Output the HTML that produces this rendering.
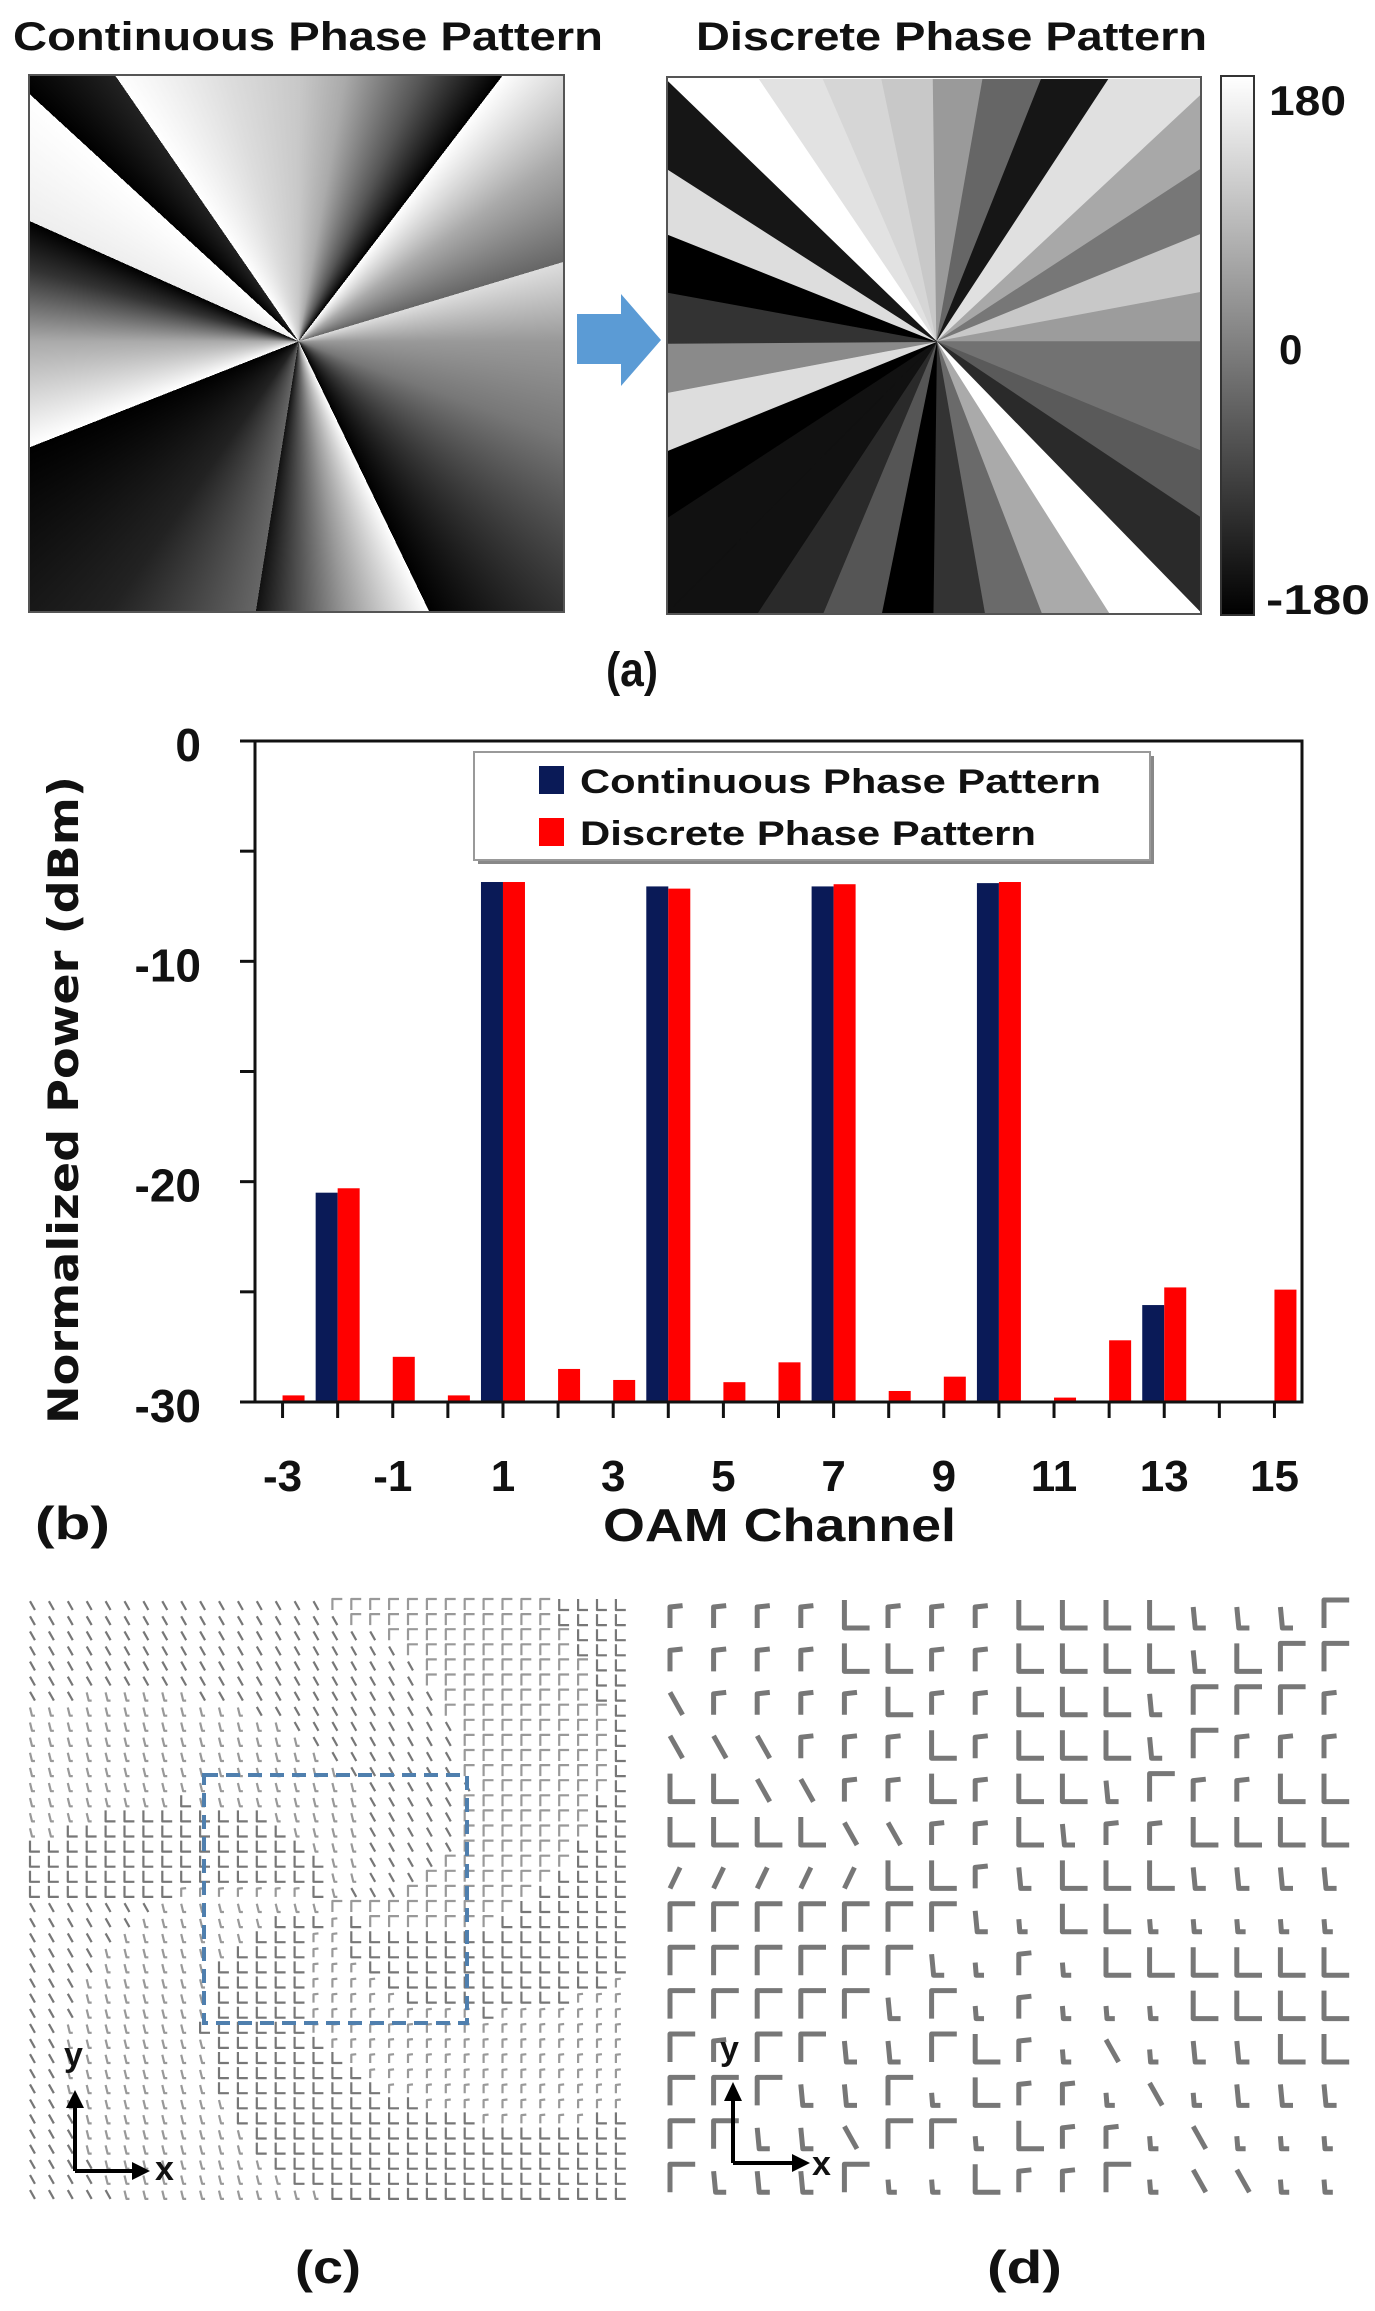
<!DOCTYPE html>
<html><head><meta charset="utf-8"><style>
html,body{margin:0;padding:0;background:#fff;}
svg{display:block;}
text{font-family:"Liberation Sans Narrow","Liberation Sans",sans-serif;font-weight:bold;fill:#111;}
</style></head><body>
<svg id="root" width="1375" height="2311" viewBox="0 0 1375 2311" xmlns="http://www.w3.org/2000/svg">
<defs>
<linearGradient id="cbar" x1="0" y1="0" x2="0" y2="1"><stop offset="0" stop-color="#fff"/><stop offset="1" stop-color="#000"/></linearGradient>
</defs>
<!-- (a) -->
<text x="13" y="50" font-size="40" textLength="590" lengthAdjust="spacingAndGlyphs">Continuous Phase Pattern</text>
<text x="696" y="50" font-size="40" textLength="511" lengthAdjust="spacingAndGlyphs">Discrete Phase Pattern</text>
<foreignObject x="28" y="74" width="537" height="539">
<div xmlns="http://www.w3.org/1999/xhtml" style="width:537px;height:539px;box-sizing:border-box;border:2px solid #555;background:conic-gradient(from 0deg at 50.4% 49.6%, #c8c8c8 0deg, #aaa 10deg, #555 25deg, #000 37.5deg, #fff 37.5deg, #aaa 55deg, #666 73.3deg, #ddd 73.3deg, #999 90deg, #777 110deg, #333 135deg, #000 154.2deg, #fff 154.2deg, #999 170deg, #111 189deg, #666 189deg, #222 215deg, #000 248.5deg, #fff 248.5deg, #aaa 270deg, #333 285deg, #000 294.1deg, #eee 294.1deg, #fff 312.6deg, #000 312.6deg, #222 325.4deg, #fff 325.4deg, #ddd 345deg, #c8c8c8 360deg);"></div>
</foreignObject>
<svg x="667" y="79" width="534" height="534" viewBox="30 25 1505 1515" preserveAspectRatio="none" id="discrete"></svg>
<rect x="667" y="77" width="534" height="537" fill="none" stroke="#555" stroke-width="2"/>
<rect x="1221" y="76" width="33" height="539" fill="url(#cbar)" stroke="#333" stroke-width="2"/>
<text x="1269" y="115" font-size="42" textLength="77" lengthAdjust="spacingAndGlyphs">180</text>
<text x="1279" y="364" font-size="42">0</text>
<text x="1266" y="614" font-size="42" textLength="104" lengthAdjust="spacingAndGlyphs">-180</text>
<polygon points="577,314 621,314 621,294 661,340 621,386 621,364 577,364" fill="#5b9bd5"/>
<text x="606" y="686" font-size="48" textLength="52" lengthAdjust="spacingAndGlyphs">(a)</text>

<!-- (b) chart -->
<g id="chart"></g>

<!-- (c) -->
<g id="fieldc"></g>
<rect x="204" y="1775" width="263" height="248" fill="none" stroke="#4f7fae" stroke-width="4" stroke-dasharray="14,8"/>
<g stroke="#000" stroke-width="4" fill="#000">
<line x1="75" y1="2171" x2="75" y2="2105"/><polygon points="66,2108 84,2108 75,2090" stroke="none"/>
<line x1="75" y1="2171" x2="135" y2="2171"/><polygon points="132,2162 132,2180 150,2171" stroke="none"/>
</g>
<text x="64" y="2066" font-size="34">y</text>
<text x="155" y="2180" font-size="34">x</text>
<text x="295" y="2283" font-size="46" textLength="66" lengthAdjust="spacingAndGlyphs">(c)</text>

<!-- (d) -->
<g id="fieldd"></g>
<g stroke="#000" stroke-width="4" fill="#000">
<line x1="733" y1="2163" x2="733" y2="2098"/><polygon points="724,2101 742,2101 733,2082" stroke="none"/>
<line x1="733" y1="2163" x2="795" y2="2163"/><polygon points="792,2154 792,2172 810,2163" stroke="none"/>
</g>
<text x="720" y="2060" font-size="34">y</text>
<text x="812" y="2175" font-size="34">x</text>
<text x="987" y="2283" font-size="46" textLength="75" lengthAdjust="spacingAndGlyphs">(d)</text>
</svg>
<script>
const NS='http://www.w3.org/2000/svg';
// ---- chart data ----
const channels=[-3,-2,-1,0,1,2,3,4,5,6,7,8,9,10,11,12,13,14,15];
const continuousPower=[-30,-20.5,-30,-30,-6.4,-30,-30,-6.6,-30,-30,-6.6,-30,-30,-6.45,-30,-30,-25.6,-30,-30];
const discretePower=[-29.7,-20.3,-27.95,-29.7,-6.4,-28.5,-29.0,-6.7,-29.1,-28.2,-6.5,-29.5,-28.85,-6.4,-29.8,-27.2,-24.8,-30,-24.9];
const yTicks=[0,-10,-20,-30];
const yMinorTicks=[0,-5,-10,-15,-20,-25,-30];
const xTickLabels=[-3,-1,1,3,5,7,9,11,13,15];
const seriesNames=['Continuous Phase Pattern','Discrete Phase Pattern'];

function mk(tag,attrs,parent){const e=document.createElementNS(NS,tag);for(const k in attrs)e.setAttribute(k,attrs[k]);parent.appendChild(e);return e;}
const PL=255,PR=1302,PT=741,PB=1402;
const yS=v=>PT+(0-v)/30*(PB-PT);
const xS=c=>PL+(c+3.5)/19*(PR-PL);
const chart=document.getElementById('chart');
const BW=22;
channels.forEach((c,i)=>{
  const b=mk('rect',{x:xS(c)-BW,y:yS(continuousPower[i]),width:BW,height:Math.max(0,PB-yS(continuousPower[i])),fill:'#0a1a57'},chart);
  
  
  const r=mk('rect',{x:xS(c),y:yS(discretePower[i]),width:BW,height:Math.max(0,PB-yS(discretePower[i])),fill:'#ff0000'},chart);
  
  
});
const frame=mk('rect',{x:PL,y:PT,width:PR-PL,height:PB-PT,fill:'none',stroke:'#111','stroke-width':3},chart);


yMinorTicks.forEach(v=>{const t=mk('line',{x1:PL-15,x2:PL,y1:yS(v),y2:yS(v),stroke:'#111','stroke-width':3},chart);
  
  });
yTicks.forEach(v=>{const t=mk('text',{x:201,y:yS(v)+20,'font-size':46,'text-anchor':'end'},chart);t.textContent=String(v);
  
  });
channels.forEach(c=>{const t=mk('line',{x1:xS(c),x2:xS(c),y1:PB,y2:PB+16,stroke:'#111','stroke-width':3},chart);
  
  });
xTickLabels.forEach(c=>{const t=mk('text',{x:xS(c),y:1491,'font-size':44,'text-anchor':'middle'},chart);t.textContent=String(c);
  
  });
const xt=mk('text',{x:603,y:1541,'font-size':46,textLength:353,lengthAdjust:'spacingAndGlyphs'},chart);xt.textContent='OAM Channel';


const lb=mk('text',{x:35,y:1539,'font-size':46,textLength:75,lengthAdjust:'spacingAndGlyphs'},chart);lb.textContent='(b)';


const yt=mk('text',{x:0,y:0,'font-size':42,transform:'translate(78,1424) rotate(-90)',textLength:648,lengthAdjust:'spacingAndGlyphs',style:'font-family:"DejaVu Sans",sans-serif'},chart);yt.textContent='Normalized Power (dBm)';


// legend
const lg=mk('g',{},chart);


mk('rect',{x:478,y:756,width:676,height:108,fill:'#888'},lg);
mk('rect',{x:474,y:752,width:676,height:108,fill:'#fff',stroke:'#999','stroke-width':2},lg);
const lc=['#0a1a57','#ff0000'];
seriesNames.forEach((n,i)=>{
  const sw=mk('rect',{x:539,y:766+i*52,width:25,height:28,fill:lc[i]},lg);
  
  
  const t=mk('text',{x:580,y:793+i*52,'font-size':34,textLength:i?456:521,lengthAdjust:'spacingAndGlyphs'},lg);t.textContent=n;
  
  
});

// ---- discrete phase sectors ----
const per=[[30,30,'#fff'],[290,25,'#e2e2e2'],[470,25,'#d6d6d6'],[635,25,'#c8c8c8'],[780,25,'#9a9a9a'],[920,25,'#666'],[1085,25,'#161616'],[1275,25,'#e0e0e0'],[1535,25,'#e0e0e0'],
[1535,70,'#a8a8a8'],[1535,280,'#777'],[1535,465,'#c8c8c8'],[1535,630,'#9c9c9c'],[1535,770,'#727272'],[1535,1080,'#5a5a5a'],[1535,1270,'#2a2a2a'],
[1535,1540,'#fff'],[1275,1540,'#aaa'],[1085,1540,'#6a6a6a'],[925,1540,'#333'],[780,1540,'#000'],[635,1540,'#555'],[470,1540,'#2a2a2a'],[285,1540,'#111'],
[30,1540,'#111'],[30,1270,'#000'],[30,1080,'#ddd'],[30,915,'#8a8a8a'],[30,775,'#333'],[30,630,'#000'],[30,465,'#ddd'],[30,280,'#161616']];
const ds=document.getElementById('discrete');
for(let i=0;i<per.length;i++){const a=per[i],b=per[(i+1)%per.length];
  const p=mk('polygon',{points:`790,770 ${a[0]},${a[1]} ${b[0]},${b[1]}`,fill:a[2],stroke:a[2],'stroke-width':2},ds);
  
  }

// ---- glyph helpers ----
function glyph(parent,t,x,y,s,col,sw){
  let d='';const w=s*0.9,h=s;
  if(t==='L')d=`M${x},${y-h}L${x},${y}L${x+w},${y}`;
  else if(t==='G')d=`M${x},${y}L${x},${y-h}L${x+w},${y-h}`;
  else if(t==='r')d=`M${x},${y}L${x},${y-h*0.75}L${x+w*0.5},${y-h*0.8}`;
  else if(t==='l')d=`M${x},${y-h*0.75}L${x+2},${y}L${x+w*0.5},${y}`;
  else if(t==='s')d=`M${x},${y-h*0.45}L${x+1},${y}L${x+w*0.35},${y}`;
  else if(t==='\\')d=`M${x},${y-h*0.8}L${x+w*0.5},${y}`;
  else if(t==='/')d=`M${x},${y}L${x+w*0.4},${y-h*0.75}`;
  const p=mk('path',{d:d,fill:'none',stroke:col,'stroke-width':sw,'stroke-linejoin':'round'},parent);
  
  
}
// (d) field
const rowsD=["rrrrLrrrLLLLlllG","rrrrLLrrLLLLlLGG","\\rrrrLrrLLLlGGGr","\\\\\\rrrLrLLLlGrrr","LL\\\\rrLrLLlGrrLL","LLLL\\\\rrLlrrLLLL","/////LLrlLLLllll","GGGGGGGlsLLsssss","GGGGGGlsrsLLLLLL","GGGGGlGsrsssLLLL","GrGGllGLrs\\sllLL","GGGllGsLrrs\\slll","GGll\\GGsLrrs\\sss","GlllGssLrrGs\\\\ss"];
const fd=document.getElementById('fieldd');
rowsD.forEach((row,r)=>{for(let c=0;c<row.length;c++){glyph(fd,row[c],670+c*43.6,1628+r*43.4,28,'#777',5);}});
// (c) field
const fc=document.getElementById('fieldc');
for(let r=0;r<40;r++)for(let c=0;c<32;c++){
  const x=30+c*18.9,y=1610+r*15.1;
  const dx=c-16,dy=r-20;
  const a=Math.atan2(dy,dx)+Math.hypot(dx,dy)*0.08;
  const k=((Math.floor((a+Math.PI)/(Math.PI/4))%6)+6)%6;
  const t=['r','L','l','\\','G','L'][k];
  const shade=(k%2)?'#777':'#999';
  glyph(fc,t,x,y,11,shade,2.2);
}
</script>
</body></html>
